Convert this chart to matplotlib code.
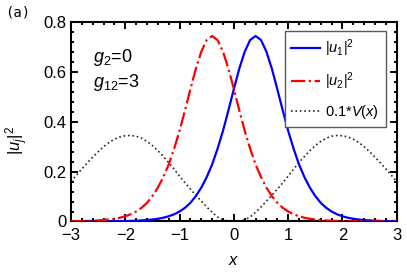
import numpy as np
import matplotlib
matplotlib.use('Agg')
import matplotlib.pyplot as plt
from matplotlib.ticker import MultipleLocator

plt.rcParams['font.family'] = ['Liberation Sans', 'DejaVu Sans']
plt.rcParams['mathtext.fontset'] = 'custom'
plt.rcParams['mathtext.rm'] = 'Liberation Sans'
plt.rcParams['mathtext.it'] = 'Liberation Sans:italic'
plt.rcParams['mathtext.bf'] = 'Liberation Sans:bold'

# sample positions, x = -3 ... 3 step 0.1
x = np.linspace(-3, 3, 61)

# |u1|^2
u1 = [0.0001, 0.0001, 0.0002, 0.0002, 0.0003, 0.0004, 0.0005, 0.0007, 0.0009, 0.0012,
      0.0017, 0.0023, 0.0031, 0.0043, 0.006, 0.008, 0.011, 0.015, 0.021, 0.029,
      0.040, 0.055, 0.075, 0.102, 0.136, 0.178, 0.229, 0.292, 0.364, 0.446,
      0.531, 0.613, 0.681, 0.728, 0.744, 0.728, 0.681, 0.613, 0.531, 0.446,
      0.364, 0.292, 0.229, 0.178, 0.136, 0.102, 0.075, 0.055, 0.040, 0.029,
      0.021, 0.015, 0.011, 0.008, 0.006, 0.0043, 0.0031, 0.0023, 0.0017, 0.0012,
      0.0009]

# |u2|^2
u2 = [0.0009, 0.0012, 0.0017, 0.0023, 0.0031, 0.0043, 0.006, 0.008, 0.011, 0.015,
      0.021, 0.029, 0.040, 0.055, 0.075, 0.102, 0.136, 0.178, 0.229, 0.292,
      0.364, 0.446, 0.531, 0.613, 0.681, 0.728, 0.744, 0.728, 0.681, 0.613,
      0.531, 0.446, 0.364, 0.292, 0.229, 0.178, 0.136, 0.102, 0.075, 0.055,
      0.040, 0.029, 0.021, 0.015, 0.011, 0.008, 0.006, 0.0043, 0.0031, 0.0023,
      0.0017, 0.0012, 0.0009, 0.0007, 0.0005, 0.0004, 0.0003, 0.0002, 0.0002, 0.0001,
      0.0001]

# 0.1*V(x)
pot = [0.160, 0.186, 0.211, 0.235, 0.258, 0.280, 0.300, 0.317, 0.330, 0.339,
       0.344, 0.345, 0.342, 0.334, 0.321, 0.304, 0.284, 0.261, 0.236, 0.210,
       0.182, 0.155, 0.130, 0.105, 0.082, 0.058, 0.037, 0.018, 0.007, 0.002,
       0.0,
       0.002, 0.007, 0.018, 0.037, 0.058, 0.082, 0.105, 0.130, 0.155, 0.182,
       0.210, 0.236, 0.261, 0.284, 0.304, 0.321, 0.334, 0.342, 0.345, 0.344,
       0.339, 0.330, 0.317, 0.300, 0.280, 0.258, 0.235, 0.211, 0.186, 0.160]

fig = plt.figure(figsize=(4.07, 2.72), dpi=100)
ax = fig.add_axes([0.1745, 0.1857, 0.8002, 0.7333])

lv, = ax.plot(x, pot, ':', color='0.15', lw=1.2, label=r'0.1*$V(x)$', zorder=2)
l1, = ax.plot(x, u1, '-', color='#0000ff', lw=1.6, label=r'$|u_1|^2$', zorder=3)
l2, = ax.plot(x, u2, '-.', color='#ff0000', lw=1.6, label=r'$|u_2|^2$', zorder=4)

ax.set_xlim(-3, 3)
ax.set_ylim(0, 0.8)
ax.xaxis.set_major_locator(MultipleLocator(1))
ax.xaxis.set_minor_locator(MultipleLocator(0.2))
ax.yaxis.set_minor_locator(MultipleLocator(0.04))
ax.set_yticks([0, 0.2, 0.4, 0.6, 0.8])
ax.set_yticklabels(['0', '0.2', '0.4', '0.6', '0.8'])

for s in ax.spines.values():
    s.set_linewidth(1.5)
ax.tick_params(which='both', direction='in', top=True, right=True, labelsize=12, width=1.4)
ax.tick_params(which='major', length=5)
ax.tick_params(which='minor', length=2.5)
ax.tick_params(axis='x', pad=5)

ax.set_xlabel(r'$x$', fontsize=12, labelpad=7)
fig.text(17 / 407, 1 - 140 / 272, r'$|u_j|^2$', fontsize=12, rotation=90,
         ha='center', va='center')

ax.text(0.0675, 0.82, r'$g_2$=0', transform=ax.transAxes, fontsize=13, va='center')
ax.text(0.0675, 0.695, r'$g_{12}$=3', transform=ax.transAxes, fontsize=13, va='center')

fig.text(0.012, 0.955, '(a)', fontsize=10, va='center', family='DejaVu Sans Mono')

leg = ax.legend(handles=[l1, l2, lv], loc='upper right',
                bbox_to_anchor=(0.967, 0.955), borderaxespad=0, fontsize=10.5,
                fancybox=False, framealpha=1, edgecolor='0.35',
                handlelength=2.0, handletextpad=0.35, labelspacing=0.75,
                borderpad=0.45)
leg.get_frame().set_linewidth(1.0)

fig.savefig('out.png', dpi=100)
